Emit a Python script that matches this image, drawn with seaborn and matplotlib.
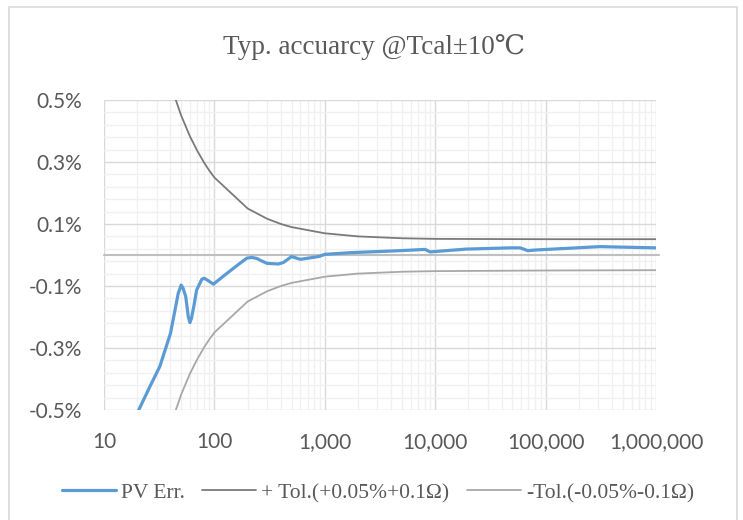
import numpy as np
import pandas as pd
import matplotlib
matplotlib.use("Agg")
import matplotlib.pyplot as plt
from matplotlib.ticker import FixedLocator, FuncFormatter, NullFormatter, LogLocator
from matplotlib.patches import Rectangle
import seaborn as sns

# ---- data ----
pv_r = [20, 26, 32, 40, 44, 47, 50, 52, 55, 58, 60, 62, 65, 69, 77, 81, 88, 98,
        130, 170, 197, 218, 242, 260, 300, 380, 422, 500, 600, 880, 1000, 1700,
        4800, 8100, 9000, 19000, 47600, 59000, 69000, 80000, 310000, 1000000]
pv_err = [-0.51, -0.425, -0.36, -0.253, -0.177, -0.124, -0.097, -0.107, -0.134,
          -0.199, -0.218, -0.204, -0.167, -0.113, -0.078, -0.075, -0.083, -0.094,
          -0.059, -0.027, -0.010, -0.008, -0.011, -0.017, -0.027, -0.029, -0.024,
          -0.005, -0.014, -0.005, 0.002, 0.0075, 0.014, 0.018, 0.010, 0.019,
          0.023, 0.023, 0.014, 0.016, 0.027, 0.023]

tol_r = [40, 50, 60, 70, 80, 90, 100, 200, 300, 400, 500, 1000, 2000, 5000,
         10000, 100000, 1000000]
tol_plus = [0.55, 0.45, 0.383, 0.336, 0.30, 0.272, 0.25, 0.15, 0.117, 0.10,
            0.09, 0.07, 0.06, 0.054, 0.052, 0.051, 0.051]
tol_minus = [-0.55, -0.45, -0.383, -0.336, -0.30, -0.272, -0.25, -0.15, -0.117,
             -0.10, -0.09, -0.07, -0.06, -0.054, -0.052, -0.050, -0.049]

y_ticks = [-0.5, -0.3, -0.1, 0.1, 0.3, 0.5]
x_ticks = [10, 100, 1000, 10000, 100000, 1000000]
x_tick_labels = ["10", "100", "1,000", "10,000", "100,000", "1,000,000"]

title = "Typ. accuarcy @Tcal\u00b110\u2103"
labels = ["PV Err.", "+ Tol.(+0.05%+0.1\u03a9)", "-Tol.(-0.05%-0.1\u03a9)"]
colors = ["#5B9BD5", "#7A7A7A", "#A8A8A8"]

# ---- styling ----
sns.set_theme(style="white")
plt.rcParams["font.family"] = ["Lato", "DejaVu Sans"]
serif = ["Liberation Serif", "DejaVu Serif"]
text_col = "#595959"

fig = plt.figure(figsize=(7.43, 5.2), dpi=100)
ax = fig.add_axes([104 / 743, 1 - 410 / 520, (656 - 104) / 743, (410 - 100) / 520])

df_pv = pd.DataFrame({"R": pv_r, "v": pv_err})
df_p = pd.DataFrame({"R": tol_r, "v": tol_plus})
df_m = pd.DataFrame({"R": tol_r, "v": tol_minus})

sns.lineplot(data=df_m, x="R", y="v", ax=ax, color=colors[2], lw=1.3,
             label=labels[2], sort=True, zorder=3)
sns.lineplot(data=df_p, x="R", y="v", ax=ax, color=colors[1], lw=1.3,
             label=labels[1], sort=True, zorder=3)
line_pv = sns.lineplot(data=df_pv, x="R", y="v", ax=ax, color=colors[0], lw=2.3,
                       label=labels[0], sort=True, zorder=4)
for ln in ax.get_lines():
    ln.set_solid_joinstyle("round")
    ln.set_solid_capstyle("round")

ax.set_xscale("log")
ax.set_xlim(10, 1000000)
ax.set_ylim(-0.5, 0.5)

ax.xaxis.set_major_locator(FixedLocator(x_ticks))
ax.xaxis.set_minor_locator(LogLocator(base=10, subs=np.arange(2, 10), numticks=20))
ax.xaxis.set_minor_formatter(NullFormatter())
ax.set_xticklabels(x_tick_labels)

ax.yaxis.set_major_locator(FixedLocator(y_ticks))
ax.yaxis.set_minor_locator(FixedLocator(np.arange(-0.5, 0.5001, 0.04)))
ax.yaxis.set_major_formatter(FuncFormatter(lambda v, p: f"{v:.1f}%"))

ax.grid(which="major", color="#D9D9D9", lw=1.0, zorder=0)
ax.grid(which="minor", color="#F0F0F0", lw=1.0, zorder=0)
ax.set_axisbelow(True)
ax.axhline(0, color="#BFBFBF", lw=1.5, zorder=2, clip_on=False, xmax=1.005)

for s in ax.spines.values():
    s.set_visible(False)
ax.tick_params(which="both", length=0)
ax.tick_params(axis="y", labelsize=15, labelcolor=text_col, pad=16)
ax.tick_params(axis="x", labelsize=15, labelcolor=text_col, pad=16)
ax.set_xlabel("")
ax.set_ylabel("")

ax.get_legend().remove()
h, l = ax.get_legend_handles_labels()
order = [l.index(x) for x in labels]
leg = fig.legend([h[i] for i in order], [l[i] for i in order],
                 loc="center", bbox_to_anchor=(378 / 743, 1 - 493 / 520),
                 ncol=3, frameon=False, handlelength=2.5, columnspacing=0.8,
                 handletextpad=0.25, prop={"family": serif, "size": 15.5})
for t in leg.get_texts():
    t.set_color(text_col)

fig.text(374 / 743, 1 - 47 / 520, title, ha="center", va="center",
         family=serif, size=19.5, color=text_col)

fig.patches.append(Rectangle((9 / 743, -0.05), (737 - 9) / 743, 1.05 - 7 / 520,
                             transform=fig.transFigure, fill=False,
                             edgecolor="#D9D9D9", lw=1.2))

fig.savefig("out.png", dpi=100, facecolor="white")
